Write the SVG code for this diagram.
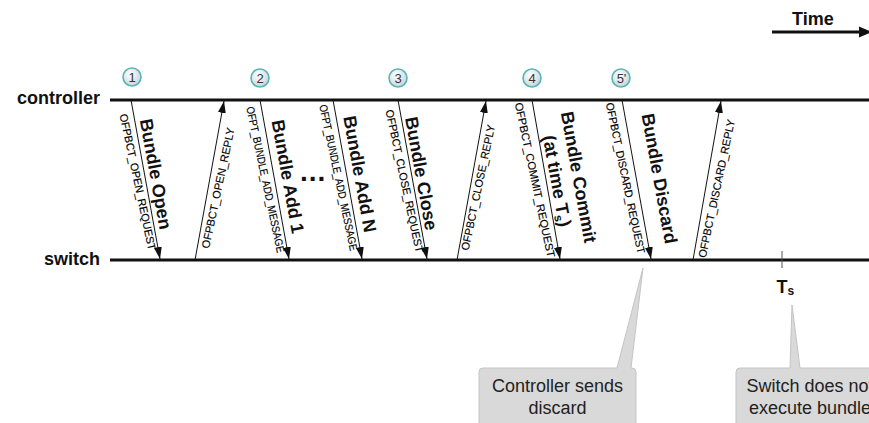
<svg xmlns="http://www.w3.org/2000/svg" width="869" height="423" viewBox="0 0 869 423">
<style>
text{font-family:"Liberation Sans",Arial,sans-serif;fill:#111}
.lane{stroke:#111;stroke-width:3}
.lname{font-size:18px;font-weight:bold;text-anchor:end}
.msg{stroke:#111;stroke-width:1;fill:none;marker-end:url(#ah)}
.big{font-size:18px;font-weight:bold;text-anchor:middle}
.sm{font-size:11px;text-anchor:middle;fill:#000;stroke:#000;stroke-width:0.15}
.num circle{fill:url(#g);stroke:#5ab4b4;stroke-width:1.6}
.num text{font-size:13px;text-anchor:middle;fill:#333}
.call{fill:#d9d9d9;stroke:#c4c4c4;stroke-width:1}
.ct{font-size:18px;text-anchor:middle;fill:#222}
</style>
<defs>
<marker id="ah" markerUnits="userSpaceOnUse" markerWidth="12" markerHeight="8" refX="12" refY="4" orient="auto"><path d="M0,0L12,4L0,8z" fill="#111"/></marker>
<radialGradient id="g" cx="0.4" cy="0.35" r="0.7"><stop offset="0" stop-color="#fff"/><stop offset="1" stop-color="#c5d3da"/></radialGradient>
</defs>

<g id="time">
<text x="792" y="25" style="font-size:18px;font-weight:bold">Time</text>
<line x1="772" y1="32" x2="860" y2="32" stroke="#111" stroke-width="3"/>
<polygon points="859,26.5 872,32 859,37.5" fill="#111"/>
</g>

<g id="controller">
<text class="lname" x="100" y="104">controller</text>
<line class="lane" x1="110" y1="100" x2="869" y2="100"/>
</g>
<g id="switch">
<text class="lname" x="100" y="265">switch</text>
<line class="lane" x1="110" y1="260" x2="869" y2="260"/>
<line x1="782" y1="251" x2="782" y2="268" stroke="#555" stroke-width="1"/>
<text x="776.5" y="293" style="font-size:18px;font-weight:bold">T<tspan style="font-size:12px" dy="2">s</tspan></text>
</g>

<g id="steps">
<g class="num" id="step1"><circle cx="132" cy="77" r="9"/><text x="132" y="81.7">1</text></g>
<g class="num" id="step2"><circle cx="260" cy="78" r="9"/><text x="260" y="82.7">2</text></g>
<g class="num" id="step3"><circle cx="398" cy="78" r="9"/><text x="398" y="82.7">3</text></g>
<g class="num" id="step4"><circle cx="532" cy="78" r="9"/><text x="532" y="82.7">4</text></g>
<g class="num" id="step5"><circle cx="621" cy="78" r="9"/><text x="621.5" y="82.7">5'</text></g>
</g>

<g id="connectors">
<path class="msg" d="M131,100L160,259"/>
<path class="msg" d="M195,260L224,101"/>
<path class="msg" d="M260,100L289,259"/>
<path class="msg" d="M333,100L362,259"/>
<path class="msg" d="M398,100L427,259"/>
<path class="msg" d="M457,260L486,101"/>
<path class="msg" d="M532,100L560,259"/>
<path class="msg" d="M622,100L651,259"/>
<path class="msg" d="M693,260L721,101"/>
</g>

<g id="msg-labels">
<text class="sm" transform="translate(137.8,182) rotate(78)" y="3.9" textLength="139" lengthAdjust="spacingAndGlyphs">OFPBCT_OPEN_REQUEST</text>
<text class="sm" transform="translate(218,188) rotate(-78)" y="3.9" textLength="123" lengthAdjust="spacingAndGlyphs">OFPBCT_OPEN_REPLY</text>
<text class="sm" transform="translate(265.5,179.5) rotate(78)" y="3.9" textLength="149" lengthAdjust="spacingAndGlyphs">OFPT_BUNDLE_ADD_MESSAGE</text>
<text class="sm" transform="translate(338.5,177.5) rotate(78)" y="3.9" textLength="149" lengthAdjust="spacingAndGlyphs">OFPT_BUNDLE_ADD_MESSAGE</text>
<text class="sm" transform="translate(404.5,181) rotate(78)" y="3.9" textLength="146" lengthAdjust="spacingAndGlyphs">OFPBCT_CLOSE_REQUEST</text>
<text class="sm" transform="translate(478,187.5) rotate(-78)" y="3.9" textLength="128" lengthAdjust="spacingAndGlyphs">OFPBCT_CLOSE_REPLY</text>
<text class="sm" transform="translate(535,180) rotate(78)" y="3.9" textLength="158" lengthAdjust="spacingAndGlyphs">OFPBCT_COMMIT_REQUEST</text>
<text class="sm" transform="translate(625.5,178) rotate(78)" y="3.9" textLength="154" lengthAdjust="spacingAndGlyphs">OFPBCT_DISCARD_REQUEST</text>
<text class="sm" transform="translate(716.5,188.5) rotate(-78)" y="3.9" textLength="141" lengthAdjust="spacingAndGlyphs">OFPBCT_DISCARD_REPLY</text>

<text class="big" transform="translate(156,174) rotate(79.66)" y="6.3">Bundle Open</text>
<text class="big" transform="translate(288,176.5) rotate(79.66)" y="6.3">Bundle Add 1</text>
<text class="big" transform="translate(360,174) rotate(79.66)" y="6.3">Bundle Add N</text>
<text class="big" transform="translate(421.5,173.5) rotate(79.66)" y="6.3">Bundle Close</text>
<text class="big" transform="translate(568,179) rotate(79.66)"><tspan x="0" y="-4.7">Bundle Commit</tspan><tspan x="0" y="17.3">(at time T<tspan style="font-size:12px" dy="3">s</tspan><tspan dy="-3">)</tspan></tspan></text>
<text class="big" transform="translate(659.5,178.5) rotate(79.66)" y="6.3">Bundle Discard</text>
<text x="300" y="181" style="font-size:28px;font-weight:bold;letter-spacing:1px">...</text>
</g>

<g id="callout-discard">
<path class="call" d="M483,368H617L643,268L631,368H632A4,4 0 0 1 636,372V440H479V372A4,4 0 0 1 483,368Z"/>
<text class="ct" x="557.5" y="392">Controller sends</text>
<text class="ct" x="557.5" y="414">discard</text>
</g>
<g id="callout-noexec">
<path class="call" d="M740,368H790L792,305L800,368H884V440H736V372A4,4 0 0 1 740,368Z"/>
<text class="ct" x="810" y="392">Switch does not</text>
<text class="ct" x="810" y="414">execute bundle</text>
</g>
</svg>
